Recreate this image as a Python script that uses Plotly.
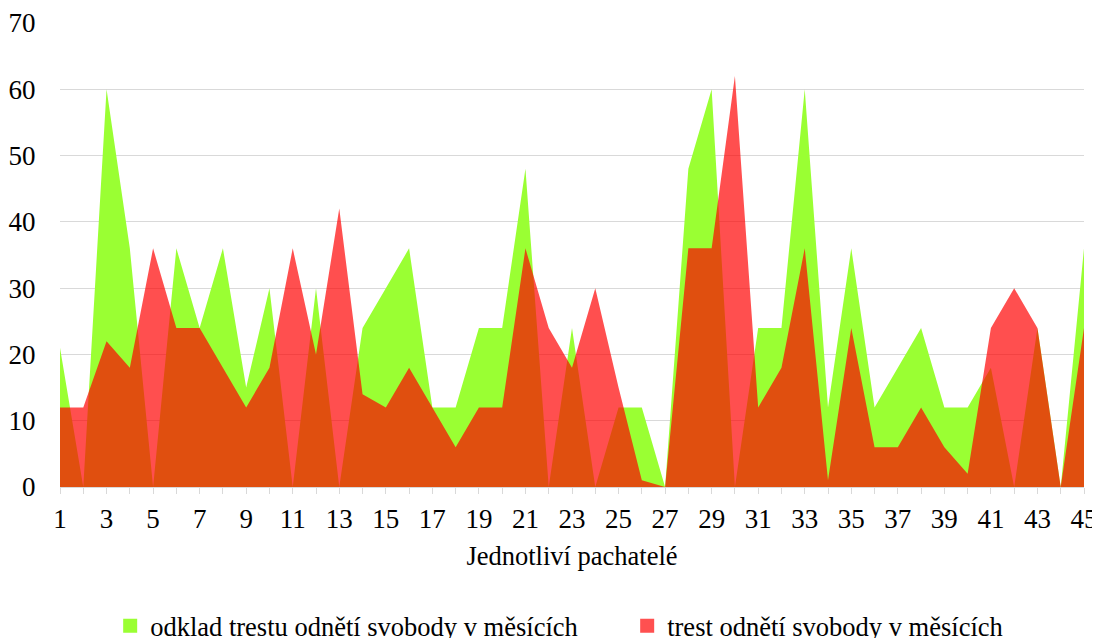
import plotly.graph_objects as go

pachatele = list(range(1, 46))
odklad = [21, 0, 60, 36, 0, 36, 24, 36, 15, 30,
          0, 30, 0, 24, 30, 36, 12, 12, 24, 24,
          48, 0, 24, 0, 12, 12, 0, 48, 60, 0,
          24, 24, 60, 12, 36, 12, 18, 24, 12, 12,
          18, 0, 24, 0, 36]
trest = [12, 12, 22, 18, 36, 24, 24, 18, 12, 18,
         36, 20, 42, 14, 12, 18, 12, 6, 12, 12,
         36, 24, 18, 30, 15, 1, 0, 36, 36, 62,
         12, 18, 36, 1, 24, 6, 6, 12, 6, 2,
         24, 30, 24, 0, 24]
tick_labels = [str(i) if i % 2 == 1 else "" for i in pachatele]

name_odklad = "odklad trestu odnětí svobody v měsících"
name_trest = "trest odnětí svobody v měsících"
green = "#9AFF33"
red_fill = "rgba(255,0,0,0.69)"
font_family = "Liberation Serif, Times New Roman, serif"

fig = go.Figure()
fig.add_trace(go.Scatter(x=pachatele, y=odklad, mode="lines", fill="tozeroy",
                         fillcolor=green, line=dict(width=0, color="rgba(0,0,0,0)"),
                         showlegend=False, hoverinfo="skip"))
fig.add_trace(go.Scatter(x=pachatele, y=trest, mode="lines", fill="tozeroy",
                         fillcolor=red_fill, line=dict(width=0, color="rgba(0,0,0,0)"),
                         showlegend=False, hoverinfo="skip"))
fig.add_trace(go.Scatter(x=[None], y=[None], mode="markers", name=name_odklad,
                         legendwidth=472,
                         marker=dict(symbol="square", size=14, color=green)))
fig.add_trace(go.Scatter(x=[None], y=[None], mode="markers", name=name_trest,
                         legendwidth=340,
                         marker=dict(symbol="square", size=14, color="#FF5050")))

fig.update_layout(
    width=1092, height=630,
    margin=dict(l=52, r=16, t=15, b=151, autoexpand=False),
    paper_bgcolor="white", plot_bgcolor="white",
    font=dict(family=font_family, size=27, color="#000000"),
    xaxis=dict(range=[1, 45], tickmode="array", tickvals=pachatele, ticktext=tick_labels,
               ticks="outside", ticklen=6, tickcolor="#D9D9D9", tickwidth=1,
               ticklabelstandoff=2,
               showline=True, linecolor="#D9D9D9", linewidth=1,
               showgrid=False, zeroline=False,
               title=dict(text="Jednotliví pachatelé", standoff=13,
                          font=dict(family=font_family, size=26.5, color="#000000"))),
    yaxis=dict(range=[0, 70], dtick=10, showgrid=True, gridcolor="#D9D9D9", gridwidth=1,
               ticks="outside", ticklen=18, tickcolor="rgba(0,0,0,0)",
               showline=False, zeroline=False),
    legend=dict(orientation="h", x=0.049, xanchor="left", y=-0.248, yanchor="top",
                font=dict(family=font_family, size=26.5, color="#000000"),
                bgcolor="rgba(0,0,0,0)"),
    showlegend=True,
)

fig.write_html("out.html")
